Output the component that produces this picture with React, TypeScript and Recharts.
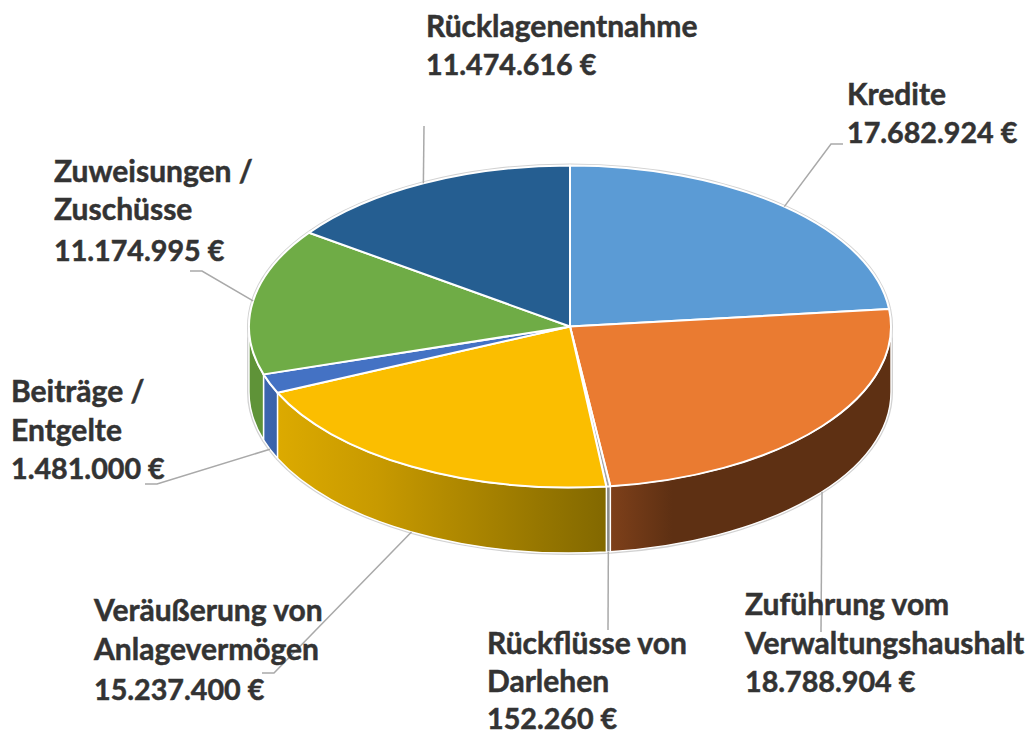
import React from "react";
import { PieChart, Pie } from "recharts";

const categoryLines: string[][] = [
  ["Kredite"],
  ["Zuführung vom", "Verwaltungshaushalt"],
  ["Rückflüsse von", "Darlehen"],
  ["Veräußerung von", "Anlagevermögen"],
  ["Beiträge /", "Entgelte"],
  ["Zuweisungen /", "Zuschüsse"],
  ["Rücklagenentnahme"],
];
const values = [17682924, 18788904, 152260, 15237400, 1481000, 11174995, 11474616];
const topColors = ["#5b9bd5", "#ea7b31", "#a5a5a5", "#fbbe00", "#4472c4", "#6fac46", "#255e91"];
const wallStops: [number, string][][] = [
  [[0, "#5b9bd5"], [1, "#5b9bd5"]],
  [[0, "#7e401a"], [0.22, "#5e3013"], [1, "#5e3013"]],
  [[0, "#8a8a8a"], [1, "#8a8a8a"]],
  [[0, "#dcaa00"], [0.3, "#c89a00"], [1, "#826800"]],
  [[0, "#3d66b0"], [1, "#3a62a8"]],
  [[0, "#5f9338"], [1, "#5f9338"]],
  [[0, "#255e91"], [1, "#255e91"]],
];

// Layout of the labels (x of the text, y of each baseline) and the leader elbows.
const labelX = [847, 745, 487, 94, 11, 54, 426];
const labelY = [
  [105, 143],
  [615, 654, 692],
  [654, 692, 729],
  [621, 660, 700],
  [402, 441, 479],
  [182, 220, 261],
  [37, 75],
];
const leaderElbows: number[][][] = [
  [[831, 144], [843, 144]],
  [[821, 632]],
  [[608, 630]],
  [[274, 673], [262, 673]],
  [[157, 484], [145, 484]],
  [[202, 271], [190, 271]],
  [[424, 126]],
];

const CX = 570;
const CY = 326.5;
const RX = 321;
const RY = 161;
const DEPTH = 65.5;
const TEXT = "#333333";
const LEADER = "#a9a9a9";
const RIM = "#d2d2d2";
const NAME_SIZE = 30;
const VALUE_SIZE = 28.7;

const table = values.map((value, i) => ({ name: categoryLines[i].join(" "), value }));

const pt = (a: number, rx = RX, ry = RY) => {
  const t = (a * Math.PI) / 180;
  return [CX + rx * Math.cos(t), CY - ry * Math.sin(t)];
};

const sectorPath = (a1: number, a2: number, rx = RX, ry = RY) => {
  const [x1, y1] = pt(a1, rx, ry);
  const [x2, y2] = pt(a2, rx, ry);
  const large = Math.abs(a1 - a2) > 180 ? 1 : 0;
  return `M${CX},${CY} L${x1},${y1} A${rx},${ry} 0 ${large} 1 ${x2},${y2} Z`;
};

const wallPath = (from: number, to: number, rx = RX, ry = RY) => {
  const [x1, y1] = pt(from, rx, ry);
  const [x2, y2] = pt(to, rx, ry);
  return `M${x1},${y1} A${rx},${ry} 0 0 1 ${x2},${y2} L${x2},${y2 + DEPTH} A${rx},${ry} 0 0 0 ${x1},${y1 + DEPTH} Z`;
};

const WallShape = (props: any) => {
  const { startAngle: a1, endAngle: a2 } = props;
  const i = table.findIndex((d) => d.name === props.name);
  const from = Math.min(a1, 0);
  const to = Math.max(a2, -180);
  const hasWall = from > to;
  const [xa] = pt(from);
  const [xb] = pt(to);
  const id = `wall-${i}`;
  return (
    <g>
      <path d={sectorPath(a1, a2, RX + 2, RY + 2)} fill={RIM} />
      {hasWall && (
        <>
          <defs>
            <linearGradient id={id} gradientUnits="userSpaceOnUse" x1={Math.min(xa, xb)} x2={Math.max(xa, xb)} y1={0} y2={0}>
              {wallStops[i].map(([o, c]) => (
                <stop key={o} offset={o} stopColor={c} />
              ))}
            </linearGradient>
          </defs>
          <path d={wallPath(from, to, RX + 2, RY + 2)} fill={RIM} />
          <path d={wallPath(from, to)} fill={`url(#${id})`} stroke="#ffffff" strokeWidth={1.4} />
        </>
      )}
    </g>
  );
};

const TopShape = (props: any) => {
  const { startAngle: a1, endAngle: a2, fill } = props;
  return <path d={sectorPath(a1, a2)} fill={fill} stroke="#ffffff" strokeWidth={2} strokeLinejoin="round" />;
};

const LeaderLabel = (props: any) => {
  const { index, startAngle, endAngle } = props;
  const mid = (startAngle + endAngle) / 2;
  const [x, y0] = pt(mid);
  const front = mid < 0 && mid > -180;
  const y = front ? y0 + DEPTH : y0;
  const pts = [[x, y], ...leaderElbows[index]];
  return (
    <polyline
      points={pts.map((p) => p.join(",")).join(" ")}
      fill="none"
      stroke={LEADER}
      strokeWidth={1.5}
    />
  );
};

const TextLabel = (props: any) => {
  const i = props.index;
  const names = categoryLines[i];
  const lines = [...names, `${values[i].toLocaleString("de-DE")} €`];
  return (
    <text
      fontFamily="Lato"
      fontWeight={700}
      fill={TEXT}
      textAnchor="start"
      stroke={TEXT}
      strokeWidth={0.5}
    >
      {lines.map((line, k) => (
        <tspan key={k} x={labelX[i]} y={labelY[i][k]} fontSize={k < names.length ? NAME_SIZE : VALUE_SIZE}>
          {line}
        </tspan>
      ))}
    </text>
  );
};

const coloured = table.map((d, i) => ({ ...d, fill: topColors[i] }));

export default function App() {
  return (
    <div style={{ position: "fixed", left: 0, top: 0, width: 1030, height: 735, background: "#ffffff" }}>
      <PieChart width={1030} height={735} margin={{ top: 0, right: 0, bottom: 0, left: 0 }}>
        <Pie
          data={coloured}
          dataKey="value"
          nameKey="name"
          cx={CX}
          cy={CY}
          innerRadius={0}
          outerRadius={RX}
          startAngle={90}
          endAngle={-270}
          stroke="none"
          isAnimationActive={false}
          shape={WallShape}
          label={LeaderLabel}
          labelLine={false}
        />
        <Pie
          data={coloured}
          dataKey="value"
          nameKey="name"
          cx={CX}
          cy={CY}
          innerRadius={0}
          outerRadius={RX}
          startAngle={90}
          endAngle={-270}
          stroke="none"
          isAnimationActive={false}
          shape={TopShape}
          label={TextLabel}
          labelLine={false}
        />
      </PieChart>
    </div>
  );
}
